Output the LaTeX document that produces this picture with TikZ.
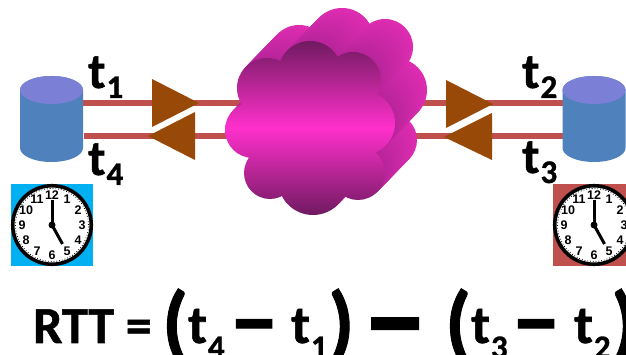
\documentclass[tikz,border=0pt]{standalone}
\usepackage{fontspec}
\usepackage{tikz}
\usetikzlibrary{calc,positioning}
\setmainfont{Carlito}
\newfontfamily\heavy[UprightFont={* Bold},FakeBold=1]{Carlito}
\newfontfamily\dialfont{Liberation Sans}
\definecolor{hostbody}{HTML}{4F81BD}
\definecolor{hostlid}{HTML}{7B7FD6}
\definecolor{linkred}{HTML}{C0504D}
\definecolor{tribrown}{HTML}{984807}
\definecolor{cloudmid}{HTML}{FF30CC}
\definecolor{cloudedge}{HTML}{701A60}
\definecolor{cloudfar}{HTML}{DE2CB2}
\definecolor{cloudnear}{HTML}{B8249A}
\definecolor{skyblue}{HTML}{00B0F0}
\newcommand{\cloudlobes}{
  (310,282) circle (32) (267,267) circle (30) (353,275) circle (28)
  (363,232) circle (32) (253,225) circle (28) (270,182) circle (26)
  (313,175) circle (35) (358,182) circle (27) (310,227) circle (65)
}
\newcommand{\stamp}[2][-.2em]{t\kern1pt\raisebox{#1}{\fontsize{33}{33}\selectfont #2}}
\newcommand{\drum}[1]{
  \fill[hostbody] ($(#1.north west)+(0,-14)$) -- ($(#1.south west)+(0,14)$)
    arc (180:360:31.5 and 14) -- ($(#1.north east)+(0,-14)$) arc (0:180:31.5 and 14) -- cycle;
  \fill[hostlid] ($(#1.north)+(0,-14)$) ellipse (31.5 and 14);
}
\tikzset{
  pics/clock/.style={code={
    \node[dial] (-dial) {};
    \draw[dotted, line width=.8] (-dial.center) circle (36.5);
    \foreach \h in {1,...,12} \node[hournum] (-n\h) at ({90-30*\h}:30) {\h};
    \coordinate (-minute) at (0,25);
    \coordinate (-hour) at (10.5,-19);
    \draw[line width=3] (-dial.center) -- (-minute);
    \draw[line width=3] (-dial.center) -- (-hour);
    \fill (-dial.center) circle (3.5);
  }}
}
\begin{document}
\begin{tikzpicture}[x=1pt, y=1pt,
  host/.style={minimum width=63, minimum height=86, inner sep=0, outer sep=0},
  link/.style={linkred, line width=6.5},
  tri/.style={fill=tribrown},
  square/.style={minimum size=82, inner sep=0, outer sep=0},
  dial/.style={circle, draw=black, fill=white, line width=3.6, minimum size=78.5, inner sep=0},
  hournum/.style={font=\dialfont\fontsize{12.5}{12.5}\selectfont\bfseries, inner sep=0},
  stamplabel/.style={font=\heavy\fontsize{50}{50}\selectfont, inner sep=0, anchor=base west},
  eq/.style={font=\heavy\fontsize{52}{52}\selectfont, inner sep=0, anchor=base west},
  eqstamp/.style={font=\heavy\fontsize{54}{54}\selectfont, inner sep=0, anchor=base west},
  minusbar/.style={font=\heavy\fontsize{100}{100}\selectfont, inner sep=0, anchor=base west},
  paren/.style={font=\heavy\fontsize{84}{84}\selectfont, inner sep=0, anchor=base west}]
\clip (0,0) rectangle (626,355);
\fill[white] (0,0) rectangle (626,355);
% end hosts
\node[host] (hostL) at (51.5,236) {};
\node[host] (hostR) at (594,236) {};
\coordinate (cloudTL) at (300,252);
\coordinate (cloudBL) at (300,219);
\coordinate (cloudTR) at (320,252);
\coordinate (cloudBR) at (320,219);
% links
\draw[link] (hostL.east |- cloudTL) -- (cloudTL);
\draw[link] ([xshift=1]hostL.east |- cloudBL) -- (cloudBL);
\draw[link] (cloudTR) -- (hostR.west |- cloudTR);
\draw[link] (cloudBR) -- (hostR.west |- cloudBR);
\drum{hostL}
\drum{hostR}
% arrow heads
\fill[tri] (199,252) -- (152,276) -- (152,228) -- cycle;
\fill[tri] (148,219) -- (195,243) -- (195,195) -- cycle;
\fill[tri] (493,251) -- (446,275) -- (446,227) -- cycle;
\fill[tri] (444,218) -- (492,242) -- (492,195) -- cycle;
% cloud
\foreach \k in {33,32,...,1}{
  \pgfmathsetmacro{\mixval}{100*\k/33}
  \fill[cloudfar!\mixval!cloudnear, xshift=\k*.97, yshift=\k] \cloudlobes;
}
\shade[top color=cloudedge, bottom color=cloudedge, middle color=cloudmid] \cloudlobes;
% labels
\node[stamplabel] (lblT1) at (88,267) {\stamp{1}};
\node[stamplabel] (lblT4) at (88,180) {\stamp{4}};
\node[stamplabel] (lblT2) at (522,267) {\stamp{2}};
\node[stamplabel] (lblT3) at (522,182) {\stamp{3}};
% clocks
\node[square, fill=skyblue] (backL) at (52,130) {};
\node[square, fill=linkred] (backR) at (594,130) {};
\pic (clockL) at (52,130) {clock};
\pic (clockR) at (594,130) {clock};
% formula
\node[eq] (rtt) at (33,12) {RTT =};
\node[paren] (openA) at (162,4) {(};
\node[eqstamp] (tfour) at (188,12) {\stamp[-.28em]{4}};
\node[minusbar] (minA) at (229,3) {–};
\node[eqstamp] (tone) at (291,12) {\stamp[-.28em]{1}};
\node[paren] (closeA) at (328,4) {)};
\node[minusbar, font=\heavy\fontsize{132}{132}\selectfont] (minB) at (362,-6) {–};
\node[paren] (openB) at (445,4) {(};
\node[eqstamp] (tthree) at (471,12) {\stamp[-.28em]{3}};
\node[minusbar] (minC) at (511,3) {–};
\node[eqstamp] (ttwo) at (574,12) {\stamp[-.28em]{2}};
\node[paren] (closeB) at (611,4) {)};
\end{tikzpicture}
\end{document}
